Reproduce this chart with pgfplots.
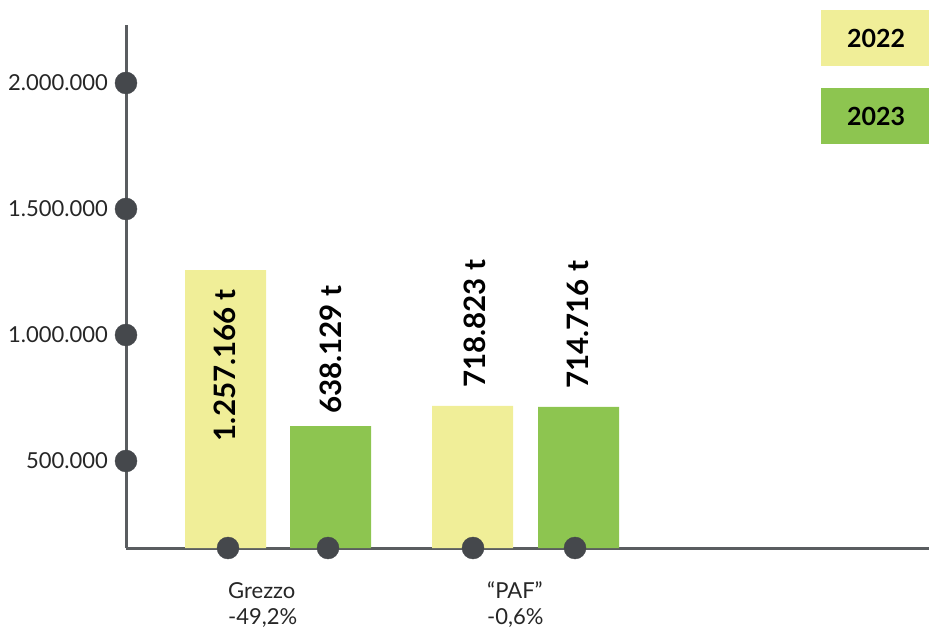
\documentclass[border=0pt]{standalone}
\usepackage{pgfplots}
\pgfplotsset{compat=1.18}
\usepackage{fontspec}
\setmainfont{Lato}
\definecolor{bar22}{HTML}{F0EE98}
\definecolor{bar23}{HTML}{8DC550}
\definecolor{axisgray}{HTML}{5A5D60}
\definecolor{dotgray}{HTML}{45484C}

\begin{document}
\begin{tikzpicture}[x=1pt,y=1pt]
\begin{axis}[
  at={(126pt,79pt)}, anchor=south west,
  scale only axis, width=803pt, height=523pt,
  xmin=126, xmax=929, ymin=154762, ymax=2230159,
  axis x line=bottom, axis y line=left,
  axis line style={draw=axisgray, line width=3pt, -},
  xtick=\empty,
  ytick={500000,1000000,1500000,2000000},
  yticklabels={500.000,1.000.000,1.500.000,2.000.000},
  scaled y ticks=false,
  major tick length=0pt,
  yticklabel style={font=\fontsize{22}{26}\selectfont, text=black!85,
    anchor=east, inner sep=0pt, xshift=-18pt},
  clip mode=individual,
]
% 2022 bars
\addplot[ybar, bar width=81, fill=bar22, draw=none]
  coordinates {(225.5,1257166) (472.5,718823)};
% 2023 bars
\addplot[ybar, bar width=81, fill=bar23, draw=none]
  coordinates {(330.5,638129) (578.5,714716)};
% dots on the baseline
\addplot[only marks, mark=*, mark size=11pt, mark options={draw=dotgray, fill=dotgray}]
  coordinates {(228,154762) (328,154762) (473,154762) (575,154762)};
% dots on the value axis
\addplot[only marks, mark=*, mark size=11pt, mark options={draw=dotgray, fill=dotgray}]
  coordinates {(126,500000) (126,1000000) (126,1500000) (126,2000000)};
% value labels
\tikzset{vlab/.style={rotate=90, inner sep=0pt, font=\bfseries\fontsize{29.5}{31}\selectfont}}
\node[vlab, anchor=east] at (axis cs:225,1182539) {1.257.166 t};
\node[vlab, anchor=west] at (axis cs:331,686507) {638.129 t};
\node[vlab, anchor=west] at (axis cs:475,789682) {718.823 t};
\node[vlab, anchor=west] at (axis cs:578,785714) {714.716 t};
\end{axis}
% category labels
\tikzset{clab/.style={anchor=base west, inner sep=0pt, text=black!85, font=\fontsize{22}{26}\selectfont}}
\node[clab] at (228,29) {Grezzo};
\node[clab] at (228,3) {-49,2\%};
\node[clab] at (487,29) {“PAF”};
\node[clab] at (487,3) {-0,6\%};
% legend
\fill[bar22] (821,561) rectangle (929,617);
\node[font=\bfseries\fontsize{25}{28}\selectfont] at (876,589) {2022};
\fill[bar23] (821,483) rectangle (929,539);
\node[font=\bfseries\fontsize{25}{28}\selectfont] at (876,511) {2023};
\pgfresetboundingbox
\useasboundingbox (0,0) rectangle (929,627);
\end{tikzpicture}
\end{document}
